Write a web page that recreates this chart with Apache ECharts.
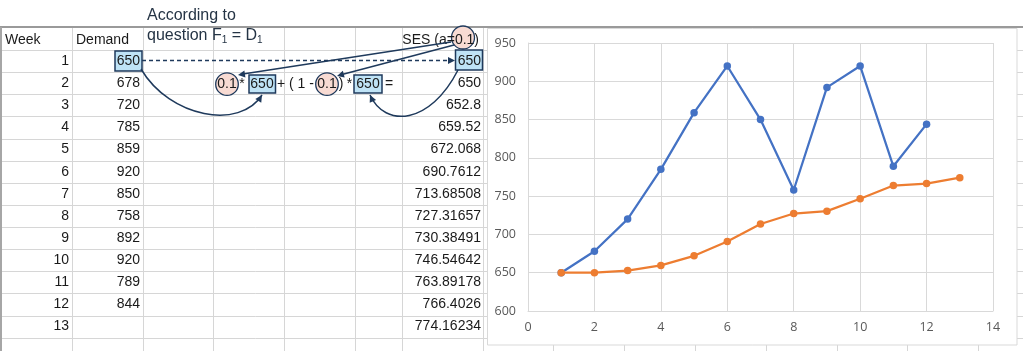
<!DOCTYPE html>
<html>
<head>
<meta charset="utf-8">
<script src="https://cdn.jsdelivr.net/npm/echarts@6.0.0/dist/echarts.min.js"></script>
<style>
  html, body { margin: 0; padding: 0; background: #fff; }
  #main { width: 1023px; height: 351px; }
</style>
</head>
<body>
<div id="main"></div>
<script>
// data read from the sheet
var weeks = [1, 2, 3, 4, 5, 6, 7, 8, 9, 10, 11, 12, 13];
var demand = [650, 678, 720, 785, 859, 920, 850, 758, 892, 920, 789, 844];
var ses = [650, 650, 652.8, 659.52, 672.068, 690.7612, 713.68508, 727.31657, 730.38491, 746.54642, 763.89178, 766.4026, 774.16234];
var alpha = 0.1;
var xTicks = [0, 14, 2];   // min, max, step
var yTicks = [600, 950, 50];

var navy = '#1f3a5c';
var boxFill = '#bfe3f6';
var circleFill = '#f8dbd3';
var cellFont = '14px "Liberation Sans"';
var noteFont = '16px "Liberation Sans"';
var gridCol = '#d6d6d6';

var colX = [72.5, 143.5, 213.5, 284.5, 355.5, 402.5, 483.5, 553.5, 624.5, 695.5, 766.5, 837.5, 907.5, 978.5];
function rowTop(i) { return 50 + 22.13 * i; }
function rowMid(i) { return rowTop(i) + 11; }

var g = [];
function line(x1, y1, x2, y2, stroke, w, dash) {
  g.push({ type: 'line', silent: true, shape: { x1: x1, y1: y1, x2: x2, y2: y2 },
    style: { stroke: stroke, lineWidth: w, lineDash: dash || null } });
}
function text(str, x, y, align, font, fill) {
  g.push({ type: 'text', silent: true,
    style: { text: str, x: x, y: y, font: font || cellFont, fill: fill || '#1a1a1a',
      align: align, textAlign: align, verticalAlign: 'middle', textVerticalAlign: 'middle' } });
}
function box(x, y, w, h) {
  g.push({ type: 'rect', silent: true, shape: { x: x, y: y, width: w, height: h },
    style: { fill: boxFill, stroke: navy, lineWidth: 1.5 } });
}
function ring(cx, cy, r) {
  g.push({ type: 'circle', silent: true, shape: { cx: cx, cy: cy, r: r },
    style: { fill: circleFill, stroke: navy, lineWidth: 1.3 } });
}
function arrowHead(tx, ty, fx, fy) {
  var a = Math.atan2(ty - fy, tx - fx), l = 7, w = 3.5;
  var bx = tx - l * Math.cos(a), by = ty - l * Math.sin(a);
  g.push({ type: 'polygon', silent: true,
    shape: { points: [[tx, ty], [bx + w * Math.sin(a), by - w * Math.cos(a)], [bx - w * Math.sin(a), by + w * Math.cos(a)]] },
    style: { fill: navy } });
}
function curve(x1, y1, c1x, c1y, c2x, c2y, x2, y2) {
  g.push({ type: 'bezierCurve', silent: true,
    shape: { x1: x1, y1: y1, cpx1: c1x, cpy1: c1y, cpx2: c2x, cpy2: c2y, x2: x2, y2: y2 },
    style: { stroke: navy, lineWidth: 1.5, fill: null } });
  arrowHead(x2, y2, c2x, c2y);
}

// sheet grid
for (var i = 0; i <= 13; i++) {
  var y = Math.round(rowTop(i)) + 0.5;
  line(0, y, 1023, y, gridCol, 1);
}
colX.forEach(function (x) { line(x, 27, x, 351, gridCol, 1); });
line(0, 27, 1023, 27, '#9a9a9a', 2);
line(1, 27, 1, 351, '#a6a6a6', 2);

// headers
text('Week', 5, 40, 'left');
text('Demand', 76, 40, 'left');
ring(463, 37.5, 11.5);
text('SES (a=' + alpha + ')', 479, 40, 'right');
text('According to', 147, 16, 'left', noteFont, '#253445');
g.push({ type: 'text', silent: true,
  style: { text: 'question F{s|1} = D{s|1}', x: 147, y: 36, font: noteFont, fill: '#253445',
    align: 'left', textAlign: 'left', verticalAlign: 'middle', textVerticalAlign: 'middle',
    rich: { s: { fontSize: 10, fontFamily: 'Liberation Sans', verticalAlign: 'bottom', padding: [8, 0, 0, 0] } } } });

// highlighted cells
box(115, 51, 27, 20);
box(455.5, 50, 27, 20);

// cell values
weeks.forEach(function (w, i) {
  var y = rowMid(i);
  text(String(w), 69, y, 'right');
  if (i < demand.length) text(String(demand[i]), 140, y, 'right');
  text(String(ses[i]), 481, y, 'right');
});

// formula in row 2
var fy = rowMid(1) + 1;
ring(227, fy, 11.3);
ring(327, fy, 11.3);
box(249, 75, 26.5, 18);
box(354, 75, 28, 18);
text(String(alpha), 227, fy, 'center');
text('*', 242, fy, 'center');
text(String(demand[0]), 262, fy, 'center');
text('+ ( 1 -', 277, fy, 'left');
text(String(alpha), 327, fy, 'center');
text(')', 341, fy, 'center');
text('*', 349.5, fy, 'center');
text(String(ses[0]), 368, fy, 'center');
text('=', 389, fy, 'center');

// arrows
line(142, 60.5, 449, 60.5, navy, 1.3, [4, 3]);
arrowHead(455, 60.5, 440, 60.5);
line(451, 42, 243, 74, navy, 1.5);
arrowHead(238, 75, 451, 42);
line(454, 45, 342, 74.5, navy, 1.5);
arrowHead(337, 76, 454, 45);
curve(141, 69, 170, 118, 240, 130, 262, 95);
curve(458, 70, 430, 125, 385, 128, 370, 95);

// chart frame
g.push({ type: 'rect', silent: true, shape: { x: 487.5, y: 28.5, width: 529.5, height: 316.5 },
  style: { fill: '#fff', stroke: '#d9d9d9', lineWidth: 1 } });

var chart = echarts.init(document.getElementById('main'), null, { renderer: 'canvas' });
chart.setOption({
  animation: false,
  graphic: { elements: g },
  grid: { left: 528, right: 30, top: 43, bottom: 40 },
  xAxis: {
    type: 'value', min: xTicks[0], max: xTicks[1], interval: xTicks[2], z: 10,
    axisLine: { show: true, lineStyle: { color: '#d9d9d9' } },
    axisTick: { show: false },
    splitLine: { show: true, lineStyle: { color: '#d9d9d9' } },
    axisLabel: { color: '#595959', fontSize: 12.5, fontFamily: 'Open Sans', margin: 10 }
  },
  yAxis: {
    type: 'value', min: yTicks[0], max: yTicks[1], interval: yTicks[2], z: 10,
    axisLine: { show: true, lineStyle: { color: '#d9d9d9' } },
    axisTick: { show: false },
    splitLine: { show: true, lineStyle: { color: '#d9d9d9' } },
    axisLabel: { color: '#595959', fontSize: 12.5, fontFamily: 'Open Sans', margin: 12 }
  },
  series: [
    {
      name: 'Demand', type: 'line', z: 20,
      data: demand.map(function (v, i) { return [weeks[i], v]; }),
      symbol: 'circle', symbolSize: 7.5,
      itemStyle: { color: '#4472C4' },
      lineStyle: { color: '#4472C4', width: 2.25 }
    },
    {
      name: 'SES', type: 'line', z: 21,
      data: ses.map(function (v, i) { return [weeks[i], v]; }),
      symbol: 'circle', symbolSize: 7.5,
      itemStyle: { color: '#ED7D31' },
      lineStyle: { color: '#ED7D31', width: 2.25 }
    }
  ]
});
</script>
</body>
</html>
